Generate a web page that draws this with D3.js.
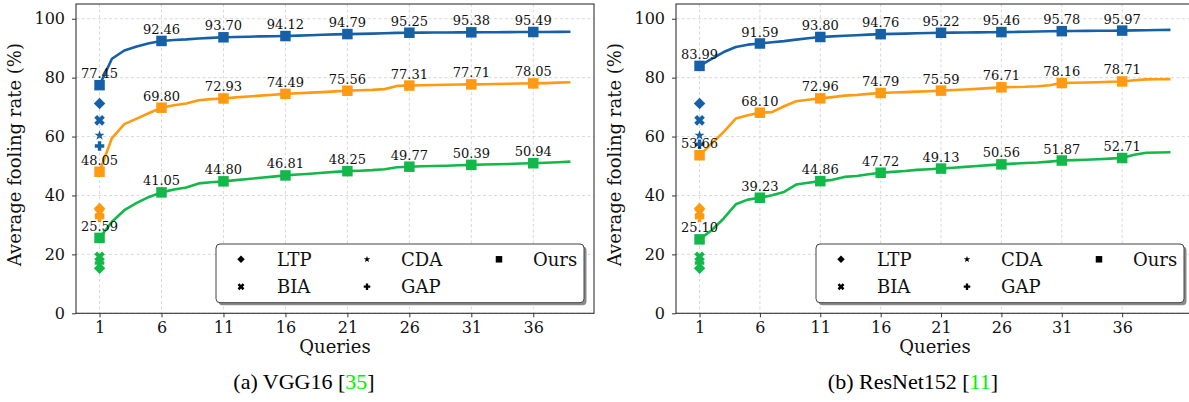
<!DOCTYPE html>
<html>
<head>
<meta charset="utf-8">
<script src="https://cdn.jsdelivr.net/npm/d3@7"></script>
<style>
  html, body { margin: 0; padding: 0; background: #fff; }
  svg { display: block; }
  text { fill: #111; }
</style>
</head>
<body>
<svg id="chart" width="1189" height="402"></svg>
<script>
// ---------------- DATA ----------------
const xTicks = [1, 6, 11, 16, 21, 26, 31, 36];
const yTicks = [0, 20, 40, 60, 80, 100];
const labeledQueries = [1, 6, 11, 16, 21, 26, 31, 36];

// (a) VGG16 — queries 1..39
const queriesA = d3.range(1, 40);
const vggBlue = [77.45, 86.4, 89.2, 90.6, 91.7, 92.46, 92.8, 93.0, 93.3, 93.5, 93.70, 93.8, 93.9, 94.0, 94.05, 94.12, 94.25, 94.4, 94.55, 94.7, 94.79, 94.85, 94.95, 95.05, 95.2, 95.25, 95.28, 95.3, 95.33, 95.36, 95.38, 95.4, 95.42, 95.44, 95.47, 95.49, 95.52, 95.55, 95.57];
const vggOrange = [48.05, 59.5, 64.2, 66.1, 68.0, 69.80, 70.6, 71.2, 72.3, 72.7, 72.93, 73.3, 73.6, 73.9, 74.2, 74.49, 74.7, 74.9, 75.1, 75.35, 75.56, 75.7, 75.85, 76.1, 77.2, 77.31, 77.4, 77.5, 77.6, 77.65, 77.71, 77.78, 77.85, 77.92, 78.0, 78.05, 78.15, 78.3, 78.45];
const vggGreen = [25.59, 31.1, 35.0, 37.5, 39.5, 41.05, 42.0, 42.7, 44.1, 44.5, 44.80, 45.2, 45.6, 46.0, 46.4, 46.81, 47.1, 47.4, 47.7, 48.0, 48.25, 48.4, 48.6, 48.9, 49.6, 49.77, 49.9, 50.0, 50.1, 50.25, 50.39, 50.5, 50.6, 50.7, 50.85, 50.94, 51.1, 51.3, 51.5];

// (b) ResNet152 — queries 1..40
const queriesB = d3.range(1, 41);
const resBlue = [83.99, 86.4, 88.7, 90.4, 91.2, 91.59, 92.0, 92.4, 92.9, 93.4, 93.80, 94.0, 94.2, 94.4, 94.6, 94.76, 94.85, 94.95, 95.05, 95.15, 95.22, 95.27, 95.32, 95.37, 95.42, 95.46, 95.52, 95.6, 95.68, 95.74, 95.78, 95.82, 95.86, 95.9, 95.94, 95.97, 96.05, 96.1, 96.15, 96.2];
const resOrange = [53.66, 57.6, 61.6, 66.1, 67.2, 68.10, 68.3, 70.3, 72.0, 72.5, 72.96, 73.4, 73.9, 74.1, 74.5, 74.79, 74.95, 75.1, 75.25, 75.4, 75.59, 75.8, 76.0, 76.2, 76.45, 76.71, 76.8, 76.9, 77.1, 77.4, 78.16, 78.25, 78.35, 78.45, 78.6, 78.71, 79.1, 79.4, 79.45, 79.5];
const resGreen = [25.10, 28.2, 32.2, 37.0, 38.6, 39.23, 40.1, 41.2, 43.7, 44.3, 44.86, 45.3, 46.3, 46.6, 47.2, 47.72, 48.0, 48.3, 48.7, 48.9, 49.13, 49.4, 49.7, 50.0, 50.3, 50.56, 50.8, 51.0, 51.2, 51.5, 51.87, 52.0, 52.15, 52.3, 52.5, 52.71, 53.8, 54.5, 54.6, 54.65];

// Baseline methods at query 1: [LTP, BIA, CDA, GAP]
const methods = ["LTP", "BIA", "CDA", "GAP"];
const vggBaseBlue = [71.2, 65.5, 60.4, 56.8];
const vggBaseOrange = [35.6, 34.2, 33.3, 32.5];
const vggBaseGreen = [15.3, 19.2, 18.2, 17.1];
const resBaseBlue = [71.2, 65.5, 60.4, 57.4];
const resBaseOrange = [35.6, 34.2, 33.3, 32.5];
const resBaseGreen = [15.3, 19.2, 18.2, 17.1];

const seriesColors = ["#1660a8", "#ff9a12", "#12b84a"];
const legendLabels = ["LTP", "BIA", "CDA", "GAP", "Ours"];

// ---------------- MARKERS ----------------
function markerPath(kind, s) {
  const h = s / 2;
  if (kind === "square") return `M${-h},${-h}H${h}V${h}H${-h}Z`;
  if (kind === "diamond") { const r = h * 1.15; return `M0,${-r}L${r},0L0,${r}L${-r},0Z`; }
  if (kind === "plus" || kind === "x") {
    const a = h, b = h * 0.36;
    let pts = [[-b,-a],[b,-a],[b,-b],[a,-b],[a,b],[b,b],[b,a],[-b,a],[-b,b],[-a,b],[-a,-b],[-b,-b]];
    if (kind === "x") {
      const c = Math.SQRT1_2, k = 1.1;
      pts = pts.map(([x, y]) => [k * (x * c - y * c), k * (x * c + y * c)]);
    }
    return "M" + pts.map(p => p[0].toFixed(2) + "," + p[1].toFixed(2)).join("L") + "Z";
  }
  if (kind === "star") {
    const R = h * 1.05, r = R * 0.4;
    const pts = [];
    for (let i = 0; i < 10; i++) {
      const ang = -Math.PI / 2 + i * Math.PI / 5;
      const rr = i % 2 === 0 ? R : r;
      pts.push([rr * Math.cos(ang), rr * Math.sin(ang)]);
    }
    return "M" + pts.map(p => p[0].toFixed(2) + "," + p[1].toFixed(2)).join("L") + "Z";
  }
  return "";
}
const methodShapes = ["diamond", "x", "star", "plus"];
const methodSizes = [10, 10, 10, 9.5];

// ---------------- DRAW ----------------
const svg = d3.select("#chart");
const serif = "'DejaVu Serif', serif";

function drawPanel(cfg) {
  const left = cfg.left, top = 4, width = 518, bottom = 313.3;
  const g = svg.append("g");
  const x = d3.scaleLinear().domain(cfg.xDomain).range([left, left + width]);
  const y = d3.scaleLinear().domain([0, 105]).range([bottom, top]);

  // grid
  g.append("g").selectAll("line").data(xTicks).join("line")
    .attr("x1", d => x(d)).attr("x2", d => x(d)).attr("y1", top).attr("y2", bottom)
    .attr("stroke", "#cfcfcf").attr("stroke-width", 0.8).attr("stroke-dasharray", "3,2.5");
  g.append("g").selectAll("line").data(yTicks).join("line")
    .attr("x1", left).attr("x2", left + width).attr("y1", d => y(d)).attr("y2", d => y(d))
    .attr("stroke", "#cfcfcf").attr("stroke-width", 0.8).attr("stroke-dasharray", "3,2.5");

  // axes
  const ax = g.append("g").attr("transform", `translate(0,${bottom})`)
    .call(d3.axisBottom(x).tickValues(xTicks).tickSize(4).tickPadding(4).tickFormat(d3.format("d")));
  const ay = g.append("g").attr("transform", `translate(${left},0)`)
    .call(d3.axisLeft(y).tickValues(yTicks).tickSize(4).tickPadding(7).tickFormat(d3.format("d")));
  [ax, ay].forEach(a => {
    a.select(".domain").remove();
    a.selectAll(".tick line").attr("stroke", "#333").attr("stroke-width", 1);
    a.selectAll(".tick text").style("font-family", serif).style("font-size", "16px").attr("fill", "#111");
  });

  // frame
  g.append("rect").attr("x", left).attr("y", top).attr("width", width).attr("height", bottom - top)
    .attr("fill", "none").attr("stroke", "#333").attr("stroke-width", 1.1);

  // lines
  const line = d3.line().x(d => x(d[0])).y(d => y(d[1]));
  cfg.series.forEach((s, i) => {
    g.append("path").datum(cfg.queries.map((q, j) => [q, s[j]]))
      .attr("d", line).attr("fill", "none").attr("stroke", seriesColors[i])
      .attr("stroke-width", 2.6).attr("stroke-linejoin", "round");
  });

  // baseline markers at query 1
  cfg.bases.forEach((b, i) => {
    b.forEach((v, m) => {
      g.append("path").attr("d", markerPath(methodShapes[m], methodSizes[m]))
        .attr("transform", `translate(${x(1)},${y(v)})`).attr("fill", seriesColors[i]);
    });
  });

  // square markers + labels
  cfg.series.forEach((s, i) => {
    labeledQueries.forEach(q => {
      const v = s[cfg.queries.indexOf(q)];
      g.append("path").attr("d", markerPath("square", 10.5))
        .attr("transform", `translate(${x(q)},${y(v)})`).attr("fill", seriesColors[i]);
    });
  });
  cfg.series.forEach((s, i) => {
    labeledQueries.forEach(q => {
      const v = s[cfg.queries.indexOf(q)];
      g.append("text").attr("x", x(q)).attr("y", y(v) - 7).attr("text-anchor", "middle")
        .style("font-family", serif).style("font-size", "13px").text(v.toFixed(2));
    });
  });

  // axis titles
  g.append("text").attr("x", left + width / 2).attr("y", 353).attr("text-anchor", "middle")
    .style("font-family", serif).style("font-size", "18px").text("Queries");
  g.append("text").attr("transform", `translate(${left - 55},${(top + bottom) / 2 - 4}) rotate(-90)`)
    .attr("text-anchor", "middle").style("font-family", serif).style("font-size", "18px")
    .text("Average fooling rate (%)");

  // legend
  const lx = left + 140, ly = 244, lw = 368, lh = 58.7;
  g.append("rect").attr("x", lx + 2.5).attr("y", ly + 2.5).attr("width", lw).attr("height", lh)
    .attr("rx", 4).attr("fill", "#8a8a8a");
  g.append("rect").attr("x", lx).attr("y", ly).attr("width", lw).attr("height", lh)
    .attr("rx", 4).attr("fill", "#fff").attr("stroke", "#444").attr("stroke-width", 1);
  const legShapes = ["diamond", "x", "star", "plus", "square"];
  const legPos = [[0, 0], [0, 1], [1, 0], [1, 1], [2, 0]];
  const colMarker = [25, 151, 283], colText = [61, 185, 317], rowY = [259.3, 286.7];
  legendLabels.forEach((lab, k) => {
    const [c, r] = legPos[k];
    g.append("path").attr("d", markerPath(legShapes[k], 6.5))
      .attr("transform", `translate(${lx + colMarker[c]},${rowY[r]})`).attr("fill", "#000");
    g.append("text").attr("x", lx + colText[c]).attr("y", rowY[r] + 6.5)
      .style("font-family", serif).style("font-size", "18px").text(lab);
  });

  // caption
  const cap = svg.append("text").attr("x", cfg.capX).attr("y", 389).attr("text-anchor", "middle")
    .style("font-family", "'Liberation Serif', serif").style("font-size", "22px").attr("fill", "#000");
  cap.append("tspan").attr("fill", "#000").text(cfg.capName + " [");
  cap.append("tspan").attr("fill", "#00ee00").text(cfg.capRef);
  cap.append("tspan").attr("fill", "#000").text("]");
}

drawPanel({
  left: 76, xDomain: [-0.9, 40.9], queries: queriesA,
  series: [vggBlue, vggOrange, vggGreen],
  bases: [vggBaseBlue, vggBaseOrange, vggBaseGreen],
  capX: 304, capName: "(a) VGG16", capRef: "35"
});
drawPanel({
  left: 676, xDomain: [-0.95, 41.95], queries: queriesB,
  series: [resBlue, resOrange, resGreen],
  bases: [resBaseBlue, resBaseOrange, resBaseGreen],
  capX: 913, capName: "(b) ResNet152", capRef: "11"
});
</script>
</body>
</html>
